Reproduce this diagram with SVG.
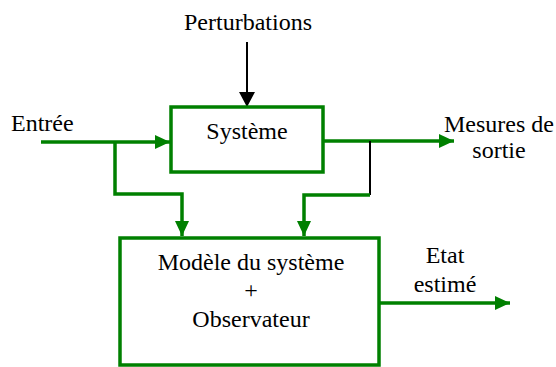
<svg xmlns="http://www.w3.org/2000/svg" width="556" height="367" viewBox="0 0 556 367">
  <style>
    .lbl { font-family: "Times New Roman", "Liberation Serif", Times, serif; font-size: 24px; fill: #000; }
    .box { fill: none; stroke: #008000; stroke-width: 3.5; }
    .g { fill: none; stroke: #008000; stroke-width: 3.5; }
    .k { fill: none; stroke: #000; stroke-width: 2; }
  </style>
  <defs>
    <marker id="ag" markerWidth="15" markerHeight="14" refX="15" refY="7" orient="auto" markerUnits="userSpaceOnUse">
      <path d="M0,0 L15,7 L0,14 Z" fill="#008000"/>
    </marker>
    <marker id="ak" markerWidth="15" markerHeight="16" refX="15" refY="8" orient="auto" markerUnits="userSpaceOnUse">
      <path d="M0,0 L15,8 L0,16 Z" fill="#000"/>
    </marker>
  </defs>

  <g id="connectors">
    <line class="k" x1="247" y1="42" x2="247" y2="107" marker-end="url(#ak)"/>
    <line class="g" x1="41" y1="142" x2="170" y2="142" marker-end="url(#ag)"/>
    <polyline class="g" points="115,142 115,194 182,194 182,236" marker-end="url(#ag)"/>
    <line class="g" x1="323" y1="141" x2="454" y2="141" marker-end="url(#ag)"/>
    <line class="k" x1="370" y1="141" x2="370" y2="195"/>
    <polyline class="g" points="370,195 304,195 304,236" marker-end="url(#ag)"/>
    <line class="g" x1="379" y1="303" x2="510" y2="303" marker-end="url(#ag)"/>
  </g>

  <g id="systeme">
    <rect class="box" x="171" y="107" width="152" height="65"/>
    <text class="lbl" x="247" y="139" text-anchor="middle">Système</text>
  </g>

  <g id="modele">
    <rect class="box" x="120" y="238" width="259" height="127"/>
    <text class="lbl" x="251" y="270" text-anchor="middle">Modèle du système</text>
    <text class="lbl" x="251" y="298" text-anchor="middle">+</text>
    <text class="lbl" x="251" y="327" text-anchor="middle">Observateur</text>
  </g>

  <g id="labels">
    <text class="lbl" x="248" y="30" text-anchor="middle">Perturbations</text>
    <text class="lbl" x="11" y="131">Entrée</text>
    <text class="lbl" x="499" y="132" text-anchor="middle">Mesures de</text>
    <text class="lbl" x="499" y="158" text-anchor="middle">sortie</text>
    <text class="lbl" x="445" y="263" text-anchor="middle">Etat</text>
    <text class="lbl" x="445" y="292" text-anchor="middle">estimé</text>
  </g>
</svg>
